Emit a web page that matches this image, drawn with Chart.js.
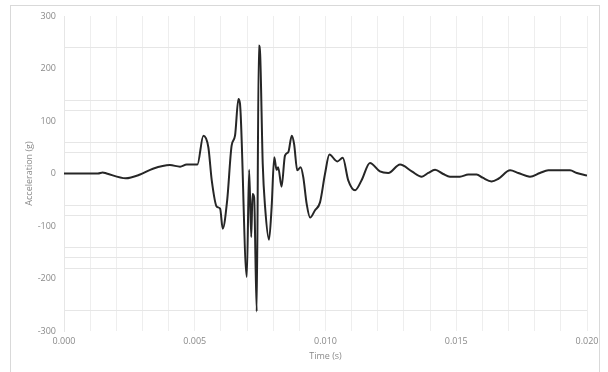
<!DOCTYPE html>
<html>
<head>
<meta charset="utf-8">
<script src="https://cdn.jsdelivr.net/npm/chart.js@4/dist/chart.umd.min.js"></script>
<style>
  html, body { margin: 0; padding: 0; background: #fff; }
  #wrap { position: relative; width: 608px; height: 372px; }
  #frame {
    position: absolute; left: 10px; top: 5px; width: 590px; height: 380px;
    border: 1px solid #d9d9d9; box-sizing: border-box; pointer-events: none;
  }
  canvas { position: absolute; left: 0; top: 0; }
</style>
</head>
<body>
<div id="wrap">
  <canvas id="AccelChart" width="608" height="372"></canvas>
  <div id="frame"></div>
</div>
<script>
// time in ms
const timeMs = [
  0.00, 1.30, 1.48, 1.63, 2.36, 2.91, 3.40, 4.05, 4.44, 4.69,
  5.10, 5.33, 5.52, 5.65, 5.84, 5.97, 6.07, 6.24, 6.41, 6.54,
  6.67, 6.73, 6.99, 7.08, 7.16, 7.21, 7.27, 7.37, 7.45, 7.50,
  7.60, 7.69, 7.84, 7.94, 8.04, 8.13, 8.19, 8.32, 8.45, 8.58,
  8.71, 8.80, 8.92, 9.05, 9.15, 9.28, 9.41, 9.60, 9.79, 9.98,
  10.15, 10.45, 10.66, 10.87, 11.13, 11.38, 11.70, 12.08, 12.40, 12.85,
  13.30, 13.68, 13.93, 14.19, 14.50, 14.76, 15.14, 15.46, 15.78, 16.01,
  16.35, 16.61, 17.06, 17.37, 17.82, 18.20, 18.52, 19.35, 19.61, 20.00,
];

// acceleration in g
const accel = [
  0, 0, 2, 0, -9, -2, 9, 16, 13, 17,
  17, 72, 50, -13, -63, -67, -105, -51, 53, 72,
  142, 133, -197, 7, -121, -39, -45, -263, 244, 228,
  18, -64, -126, -64, 31, 7, 12, -25, 34, 41,
  72, 56, 6, 12, -7, -58, -84, -70, -55, -1,
  36, 23, 30, -13, -32, -13, 20, 4, 1, 17,
  4, -6, 1, 7, -1, -6, -6, -2, -2, -8,
  -15, -10, 6, 1, -6, 1, 6, 6, 1, -4,
];

const xTickLabels = ["0.000", "0.005", "0.010", "0.015", "0.020"];
const yTickLabels = [300, 200, 100, 0, -100, -200, -300];

// the minor gridlines that actually show in the reference
const shownGridY = [240, 140, 120, 60, 40, -60, -80, -140, -160, -180, -260];

const points = timeMs.map((t, i) => ({ x: t / 1000, y: accel[i] }));

const tickFont = { family: "'Open Sans', sans-serif", size: 9 };
const gray = "#8a8a8a";

new Chart(document.querySelector("#AccelChart"), {
  type: "line",
  data: {
    datasets: [
      {
        label: "Acceleration",
        data: points,
        borderColor: "#262626",
        borderWidth: 2,
        pointRadius: 0,
        cubicInterpolationMode: "monotone",
        fill: false,
      },
    ],
  },
  options: {
    responsive: false,
    animation: false,
    layout: { padding: { left: 0, right: 21, top: 16, bottom: 0 } },
    plugins: {
      legend: { display: false },
      tooltip: { enabled: false },
    },
    scales: {
      x: {
        type: "linear",
        min: 0,
        max: 0.02,
        afterFit(scale) {
          scale.height = 41;
        },
        ticks: {
          stepSize: 0.001,
          autoSkip: false,
          maxRotation: 0,
          padding: 5,
          color: gray,
          font: tickFont,
          callback(value) {
            const ms = Math.round(value * 1000);
            if (ms % 5 !== 0) return "";
            return xTickLabels[ms / 5];
          },
        },
        grid: {
          color: "#eeeeee",
          drawTicks: false,
        },
        border: { display: false },
        title: {
          display: true,
          text: "Time (s)",
          color: gray,
          font: tickFont,
          padding: { top: 0, bottom: 10 },
        },
      },
      y: {
        min: -300,
        max: 300,
        afterFit(scale) {
          scale.width = 64;
        },
        ticks: {
          stepSize: 20,
          autoSkip: false,
          padding: 8,
          color: gray,
          font: tickFont,
          callback(value) {
            return yTickLabels.includes(value) ? String(value) : "";
          },
        },
        grid: {
          drawTicks: false,
          color(ctx) {
            const v = ctx.tick && ctx.tick.value;
            return shownGridY.includes(v) ? "#e6e6e6" : "rgba(0,0,0,0)";
          },
        },
        border: { display: true, color: "#e6e6e6" },
        title: {
          display: true,
          text: "Acceleration (g)",
          color: gray,
          font: tickFont,
          padding: { top: 24, bottom: 0 },
        },
      },
    },
  },
});
</script>
</body>
</html>
